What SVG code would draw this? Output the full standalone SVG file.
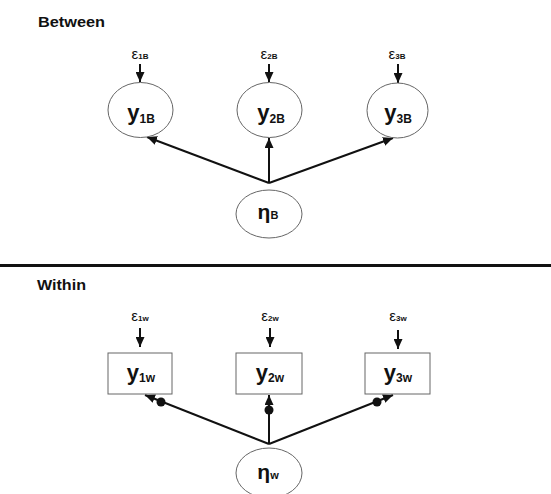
<svg xmlns="http://www.w3.org/2000/svg" width="551" height="494" viewBox="0 0 551 494">
<style>
.title{font-family:"Liberation Sans",Arial,sans-serif;font-size:14px;font-weight:bold;fill:#111}
.node{fill:#fff;stroke:#666;stroke-width:1}
.lbl{font-family:"Liberation Sans",Arial,sans-serif;font-weight:bold;font-size:22px;fill:#111}
.sub{font-size:12px}
.eps{font-family:"Liberation Sans",Arial,sans-serif;font-size:15px;fill:#111}
.esub{font-size:8px;font-weight:bold}
.eta{font-family:"Liberation Sans",Arial,sans-serif;font-size:21px;font-weight:bold;fill:#111}
.etasub{font-size:11px;font-weight:bold}
.conn{stroke:#111;stroke-width:2;fill:none;marker-end:url(#ah)}
.err{stroke:#111;stroke-width:2;fill:none;marker-end:url(#ah)}
.dot{fill:#111}
</style>
<defs>
<marker id="ah" markerUnits="userSpaceOnUse" markerWidth="10" markerHeight="9" refX="10" refY="4.5" orient="auto">
<path d="M0,0 L10,4.5 L0,9 z" fill="#111"/>
</marker>
</defs>
<rect width="551" height="494" fill="#fff"/>
<text class="title" x="38" y="27" textLength="67" lengthAdjust="spacingAndGlyphs">Between</text>
<line x1="0" y1="265.5" x2="551" y2="265.5" stroke="#111" stroke-width="3"/>
<text class="title" x="37" y="290" textLength="49" lengthAdjust="spacingAndGlyphs">Within</text>

<g id="connectors">
<line class="err" x1="140" y1="64" x2="140" y2="82"/>
<line class="err" x1="269" y1="64" x2="269" y2="82"/>
<line class="err" x1="398" y1="64" x2="398" y2="83"/>
<line class="conn" x1="269" y1="183" x2="147" y2="137"/>
<line class="conn" x1="269" y1="183" x2="269" y2="138"/>
<line class="conn" x1="269" y1="183" x2="393" y2="138"/>
<line class="err" x1="140" y1="328" x2="140" y2="347"/>
<line class="err" x1="270" y1="328" x2="270" y2="347"/>
<line class="err" x1="398" y1="330" x2="398" y2="349"/>
<line class="conn" x1="269" y1="444" x2="145" y2="395"/>
<line class="conn" x1="269" y1="444" x2="269" y2="395"/>
<line class="conn" x1="269" y1="444" x2="393" y2="395"/>
<circle class="dot" cx="161" cy="402" r="4.5"/>
<circle class="dot" cx="269" cy="410" r="4.5"/>
<circle class="dot" cx="377" cy="402" r="4.5"/>
</g>

<g id="e1B"><text class="eps" x="140" y="59" text-anchor="middle">ε<tspan class="esub">1B</tspan></text></g>
<g id="e2B"><text class="eps" x="269" y="59" text-anchor="middle">ε<tspan class="esub">2B</tspan></text></g>
<g id="e3B"><text class="eps" x="397" y="59" text-anchor="middle">ε<tspan class="esub">3B</tspan></text></g>

<g id="y1B"><ellipse class="node" cx="140.5" cy="110" rx="32.5" ry="27.5"/><text class="lbl" x="141" y="120" text-anchor="middle">y<tspan class="sub" dy="3">1B</tspan></text></g>
<g id="y2B"><ellipse class="node" cx="269.5" cy="110" rx="32.5" ry="27.5"/><text class="lbl" x="271" y="120" text-anchor="middle">y<tspan class="sub" dy="3">2B</tspan></text></g>
<g id="y3B"><ellipse class="node" cx="397.5" cy="110.5" rx="30.5" ry="27.5"/><text class="lbl" x="398" y="120" text-anchor="middle">y<tspan class="sub" dy="3">3B</tspan></text></g>
<g id="etaB"><ellipse class="node" cx="269" cy="214" rx="33" ry="24"/><text class="eta" x="268" y="219" text-anchor="middle">η<tspan class="etasub">B</tspan></text></g>

<g id="e1w"><text class="eps" x="140" y="321" text-anchor="middle">ε<tspan class="esub">1w</tspan></text></g>
<g id="e2w"><text class="eps" x="270" y="321" text-anchor="middle">ε<tspan class="esub">2w</tspan></text></g>
<g id="e3w"><text class="eps" x="398" y="321" text-anchor="middle">ε<tspan class="esub">3w</tspan></text></g>

<g id="y1w"><rect class="node" x="108" y="353" width="64" height="41"/><text class="lbl" x="141" y="380" text-anchor="middle">y<tspan class="sub" dy="2">1w</tspan></text></g>
<g id="y2w"><rect class="node" x="236" y="353" width="66" height="41"/><text class="lbl" x="270" y="380" text-anchor="middle">y<tspan class="sub" dy="2">2w</tspan></text></g>
<g id="y3w"><rect class="node" x="365" y="353" width="65" height="41"/><text class="lbl" x="398" y="380" text-anchor="middle">y<tspan class="sub" dy="2">3w</tspan></text></g>
<g id="etaW"><ellipse class="node" cx="269" cy="473" rx="33" ry="25"/><text class="eta" x="268" y="479" text-anchor="middle">η<tspan class="etasub">w</tspan></text></g>
</svg>
